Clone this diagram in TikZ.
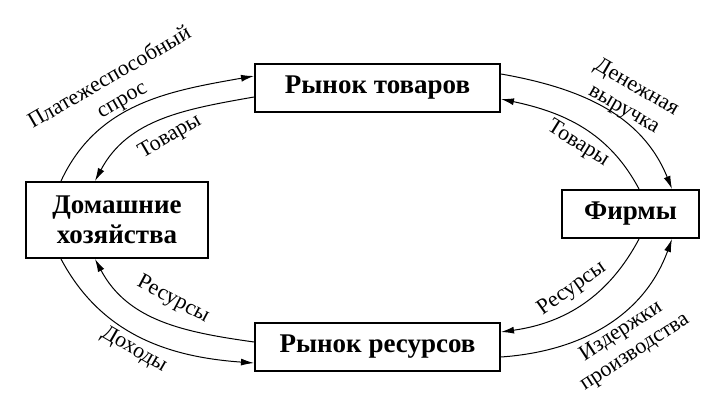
\documentclass[tikz,border=0pt]{standalone}
\usepackage{fontspec}
\setmainfont{Liberation Serif}
\usetikzlibrary{arrows.meta}

\tikzset{
  market/.style={draw=black, line width=2pt, minimum width=245pt, minimum height=48pt, font=\fontsize{27}{30}\selectfont\bfseries},
  flow/.style={line width=1pt, -{Latex[length=13pt,width=7pt]}},
  flowlabel/.style={font=\fontsize{22}{25}\selectfont, align=center, inner sep=0pt}
}

\begin{document}
\begin{tikzpicture}[x=1pt, y=1pt]

\useasboundingbox (0,0) rectangle (720,409);

% Boxes
\node[market] (goods) at (377.5, 321) {Рынок товаров};
\node[market] (resources) at (377.5, 62) {Рынок ресурсов};
\node[market, minimum width=182pt, minimum height=76pt, align=center] (house) at (117, 189) {Домашние\\хозяйства};
\node[market, minimum width=137pt] (firms) at (630.5, 195) {Фирмы};

% Upper flows
\draw[flow] ([xshift=-56pt]house.north) to[out=65, in=190] ([yshift=12pt]goods.west);
\draw[flow] ([yshift=-9pt]goods.west) to[out=190, in=62] ([xshift=-22pt]house.north);
\draw[flow] ([yshift=14pt]goods.east) to[out=-10, in=112] ([xshift=41.5pt]firms.north);
\draw[flow] ([xshift=8.5pt]firms.north) to[out=118, in=-12] ([yshift=-11pt]goods.east);

% Lower flows
\draw[flow] ([yshift=5pt]resources.west) to[out=172, in=-62] ([xshift=-22pt]house.south);
\draw[flow] ([xshift=-56pt]house.south) to[out=-62, in=176] ([yshift=-16pt]resources.west);
\draw[flow] ([xshift=8.5pt]firms.south) to[out=-118, in=8] ([yshift=15pt]resources.east);
\draw[flow] ([yshift=-10pt]resources.east) to[out=4, in=-110] ([xshift=41.5pt]firms.south);

% Labels
\node[flowlabel, rotate=30] (demand) at (116, 320) {Платежеспособный\\спрос};
\node[flowlabel, rotate=30] (goodsL) at (170, 272) {Товары};
\node[flowlabel, rotate=-30] (revenue) at (630, 310) {Денежная\\выручка};
\node[flowlabel, rotate=-32] (goodsR) at (578, 265) {Товары};
\node[flowlabel, rotate=-28] (resL) at (173, 109) {Ресурсы};
\node[flowlabel, rotate=-30] (income) at (134, 59) {Доходы};
\node[flowlabel, rotate=35] (resR) at (572, 120) {Ресурсы};
\node[flowlabel, rotate=33] (costs) at (628, 67) {Издержки\\производства};

\end{tikzpicture}
\end{document}
